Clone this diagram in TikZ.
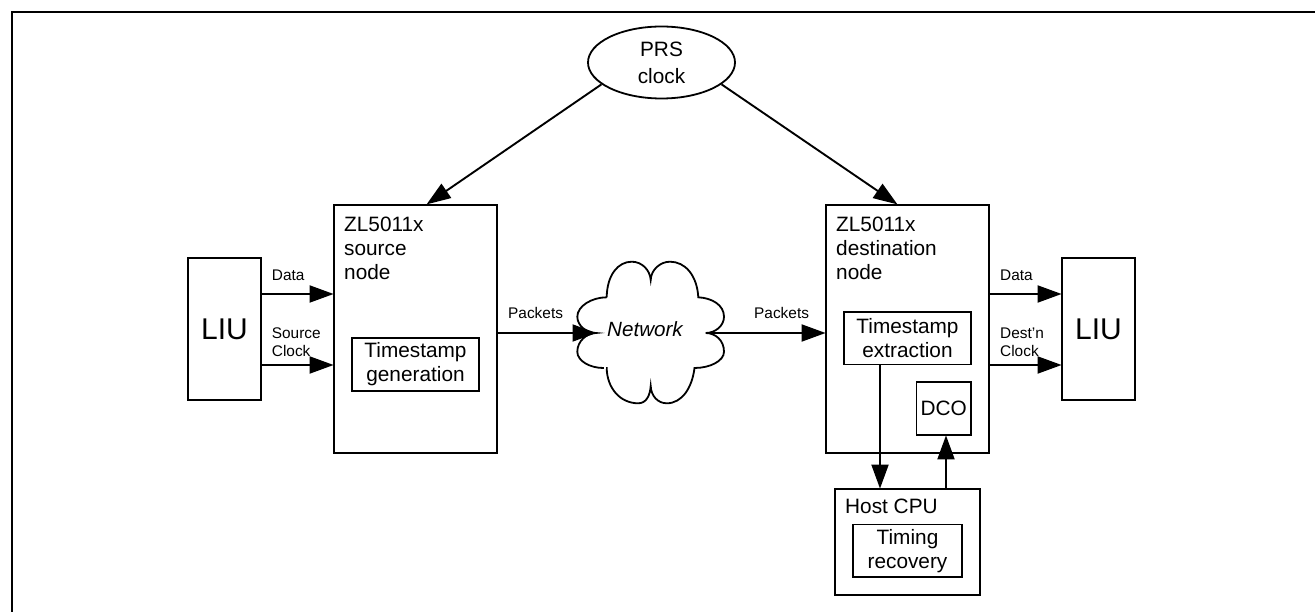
\documentclass[tikz,border=0pt]{standalone}
\usepackage{fontspec}
\setmainfont{Liberation Sans}
\usetikzlibrary{arrows.meta,shapes.geometric}
\newcommand{\mainsize}{\fontsize{20.8}{24}\selectfont}
\newcommand{\smallsize}{\fontsize{15.4}{18}\selectfont}
\tikzset{
  box/.style={draw,line width=1.8pt,fill=white,inner sep=0pt,align=center,font=\mainsize},
  maintext/.style={inner sep=0pt,align=left,anchor=base west,font=\mainsize},
  smalltext/.style={inner sep=0pt,align=left,anchor=base west,font=\smallsize},
  arr/.style={line width=1.9pt,-{Triangle[length=24pt,width=17pt]},shorten >=-0.5pt},
  cloudline/.style={line width=1.8pt}
}
\begin{document}
\begin{tikzpicture}[x=1pt,y=-1pt]
\useasboundingbox (0,0) rectangle (1315,612);
\draw[line width=2.2pt] (12,612) -- (12,12) -- (1315,12);
% boxes
\node[box,ellipse,minimum width=147pt,minimum height=72pt] (prs) at (661.5,62.5) {PRS\\[3pt]clock};
\node[box,minimum width=73pt,minimum height=142pt,font=\fontsize{30}{32}\selectfont] (liuL) at (224.5,329) {LIU};
\node[box,minimum width=73pt,minimum height=142pt,font=\fontsize{30}{32}\selectfont] (liuR) at (1098.5,329) {LIU};
\node[box,minimum width=163pt,minimum height=248pt] (src) at (415.5,329) {};
\node[box,minimum width=163pt,minimum height=248pt] (dst) at (907.5,329) {};
\node[box,minimum width=127pt,minimum height=53pt] (gen) at (415.5,364.5) {Timestamp\\generation};
\node[box,minimum width=127pt,minimum height=52.5pt] (ext) at (907.5,338.25) {Timestamp\\extraction};
\node[box,minimum width=54.5pt,minimum height=53pt] (dco) at (943.75,408.5) {DCO};
\node[box,minimum width=145pt,minimum height=106pt] (host) at (907.5,542) {};
\node[box,minimum width=109pt,minimum height=52.5pt] (rec) at (907.5,550.75) {Timing\\recovery};
% box captions
\node[maintext] (srct) at (344,280) {ZL5011x\\source\\node};
\node[maintext] (dstt) at (836,280) {ZL5011x\\destination\\node};
\node[maintext] (hostt) at (845,513) {Host CPU};
% cloud
\coordinate (cloudW) at (596,333);
\coordinate (cloudE) at (705.7,333);
\draw[cloudline,fill=white] (606.7,297.3)
  .. controls (607,275) and (618,261.7) .. (631.7,261.7)
  .. controls (642,261.7) and (650,270) .. (650.7,280)
  .. controls (651,270) and (660,261.7) .. (670,261.7)
  .. controls (685,261.7) and (697,275) .. (698.3,297.3)
  .. controls (712,298) and (724,305) .. (724,316.7)
  .. controls (724,326) and (715,333) .. (cloudE)
  .. controls (715,333) and (724,340) .. (724,351.7)
  .. controls (724,361) and (710,368) .. (694.5,368)
  .. controls (692,388) and (682,403.3) .. (666.7,403.3)
  .. controls (658,403.3) and (651,396) .. (650.7,386)
  .. controls (650,396) and (646,403.3) .. (638.3,403.3)
  .. controls (620,403.3) and (607,388) .. (606.7,368)
  -- (603.3,368)
  .. controls (590,368) and (577.3,361) .. (577.3,351.7)
  .. controls (577.3,341) and (587,333) .. (cloudW)
  .. controls (587,333) and (577.3,326) .. (577.3,316.7)
  .. controls (577.3,306) and (592,297.3) .. (606.7,297.3);
\fill[white] (604,366.5) rectangle (606,369.5);
\node[inner sep=0pt,anchor=base,font=\fontsize{20.6}{24}\selectfont\itshape] (net) at (645,336.7) {Network};
% connectors
\draw[arr] (prs.200) -- ([xshift=11.5pt]src.north);
\draw[arr] (prs.-20) -- ([xshift=-10.5pt]dst.north);
\draw[arr] ([yshift=35pt]liuL.east) -- ([yshift=35pt]src.west);
\draw[arr] ([yshift=-36pt]liuL.east) -- ([yshift=-36pt]src.west);
\draw[arr] ([yshift=-4pt]src.east) -- (cloudW);
\draw[arr] (cloudE) -- ([yshift=-4pt]dst.west);
\draw[arr] ([yshift=35pt]dst.east) -- ([yshift=35pt]liuR.west);
\draw[arr] ([yshift=-36pt]dst.east) -- ([yshift=-36pt]liuR.west);
\draw[arr] ([xshift=-27.5pt]ext.south) -- ([xshift=-27.5pt]host.north);
\draw[arr] ([xshift=38.5pt]host.north) -- ([xshift=2.25pt]dco.south);
% connector labels
\node[smalltext] (l1) at (271.7,281) {Data};
\node[smalltext] (l2) at (271.7,356) {Source\\Clock};
\node[smalltext] (l3) at (508,319) {Packets};
\node[smalltext] (l4) at (754,319) {Packets};
\node[smalltext] (l5) at (1000,281) {Data};
\node[smalltext] (l6) at (1000,356) {Dest'n\\Clock};
\end{tikzpicture}
\end{document}
